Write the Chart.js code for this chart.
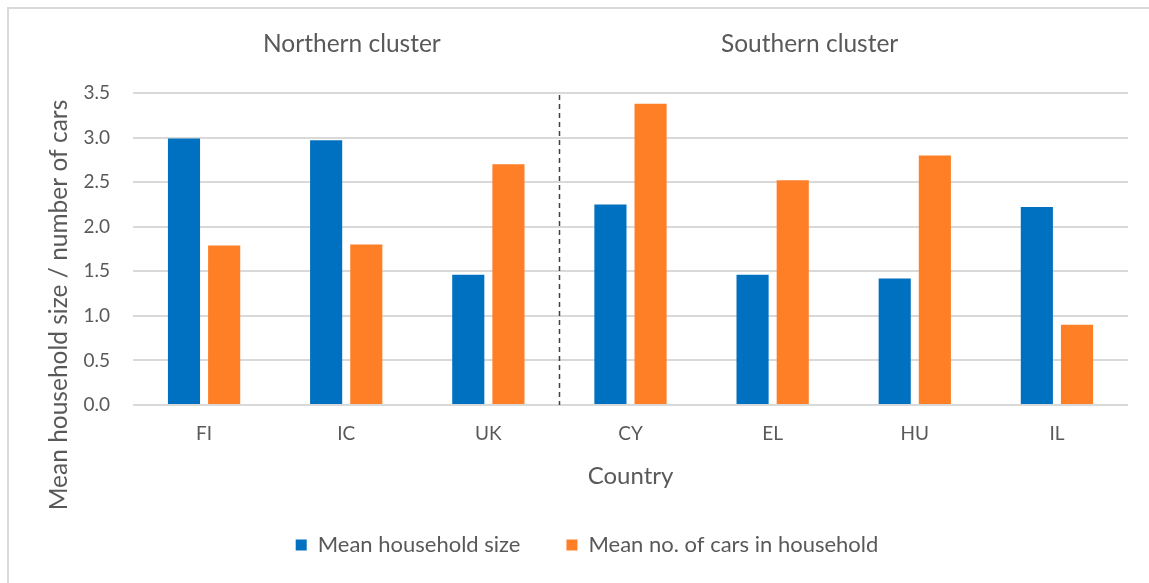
<!DOCTYPE html>
<html>
<head>
<meta charset="utf-8">
<script src="https://cdn.jsdelivr.net/npm/chart.js@4"></script>
<style>
  html, body { margin: 0; padding: 0; background: #fff; }
  #wrap { position: relative; width: 1149px; height: 583px; }
</style>
</head>
<body>
<div id="wrap"><canvas id="chart"></canvas></div>
<script>
const countries = ['FI', 'IC', 'UK', 'CY', 'EL', 'HU', 'IL'];
const householdSize = [2.99, 2.97, 1.46, 2.25, 1.46, 1.42, 2.22];
const carsInHousehold = [1.79, 1.80, 2.70, 3.38, 2.52, 2.80, 0.90];
const yTicks = [0, 0.5, 1, 1.5, 2, 2.5, 3, 3.5];
const clusters = ['Northern cluster', 'Southern cluster'];

const FONT = "Lato, 'Liberation Sans', sans-serif";
const TEXT = '#595959';

// frame, cluster headings, divider and the y title (Excel-style extras)
const extras = {
    id: 'extras',
    afterLayout(chart) {
        // Excel centres the legend a little right of the plot
        chart.legend.left += 23;
        chart.legend.right += 23;
    },
    beforeDraw(chart) {
        const ctx = chart.ctx;
        ctx.save();
        ctx.strokeStyle = '#d9d9d9';
        ctx.lineWidth = 2;
        ctx.beginPath();
        ctx.moveTo(8, chart.height + 5);
        ctx.lineTo(8, 8);
        ctx.lineTo(chart.width + 5, 8);
        ctx.stroke();
        ctx.restore();
    },
    afterDatasetsDraw(chart) {
        const ctx = chart.ctx;
        const x = chart.scales.x, y = chart.scales.y;
        ctx.save();
        // dashed divider between the two clusters
        const dx = Math.round(x.getPixelForValue(2.5)) + 0.5;
        ctx.strokeStyle = '#404040';
        ctx.lineWidth = 1.5;
        ctx.setLineDash([5, 4]);
        ctx.beginPath();
        ctx.moveTo(dx, y.getPixelForValue(3.5) + 2);
        ctx.lineTo(dx, y.getPixelForValue(0));
        ctx.stroke();
        ctx.setLineDash([]);

        ctx.fillStyle = TEXT;
        ctx.textAlign = 'center';
        ctx.textBaseline = 'middle';
        ctx.font = '24.5px ' + FONT;
        ctx.fillText(clusters[0], x.getPixelForValue(1.04), 44);
        ctx.fillText(clusters[1], x.getPixelForValue(4.26), 44);

        ctx.font = '24.5px ' + FONT;
        ctx.translate(59, 305);
        ctx.rotate(-Math.PI / 2);
        ctx.fillText('Mean household size / number of cars', 0, 0);
        ctx.restore();
    }
};

new Chart(document.getElementById('chart'), {
    type: 'bar',
    data: {
        labels: countries,
        datasets: [
            {
                label: 'Mean household size',
                data: householdSize,
                backgroundColor: '#0070c0',
                categoryPercentage: 0.565,
                barPercentage: 0.8
            },
            {
                label: 'Mean no. of cars in household',
                data: carsInHousehold,
                backgroundColor: '#ff7f27',
                categoryPercentage: 0.565,
                barPercentage: 0.8
            }
        ]
    },
    options: {
        responsive: true,
        maintainAspectRatio: false,
        animation: false,
        layout: { padding: { top: 93, right: 21, bottom: 17, left: 0 } },
        plugins: {
            legend: {
                position: 'bottom',
                labels: {
                    boxWidth: 11,
                    boxHeight: 11,
                    padding: 46,
                    color: TEXT,
                    font: { family: FONT, size: 22 }
                }
            },
            tooltip: { enabled: false }
        },
        scales: {
            x: {
                grid: { display: false },
                border: { display: false },
                ticks: { color: TEXT, padding: 9, font: { family: FONT, size: 19 } },
                title: {
                    display: true,
                    text: 'Country',
                    color: TEXT,
                    font: { family: FONT, size: 24 },
                    padding: { top: 0, bottom: -3 }
                },
                afterFit: s => { s.height = 83; }
            },
            y: {
                min: 0,
                max: 3.5,
                afterBuildTicks: s => { s.ticks = yTicks.map(v => ({ value: v })); },
                grid: { color: '#d9d9d9', lineWidth: 2, drawTicks: false },
                border: { display: false },
                ticks: {
                    color: TEXT,
                    padding: 23,
                    font: { family: FONT, size: 19 },
                    callback: v => v.toFixed(1)
                },
                afterFit: s => { s.width = 133; }
            }
        }
    },
    plugins: [extras]
});
</script>
</body>
</html>
